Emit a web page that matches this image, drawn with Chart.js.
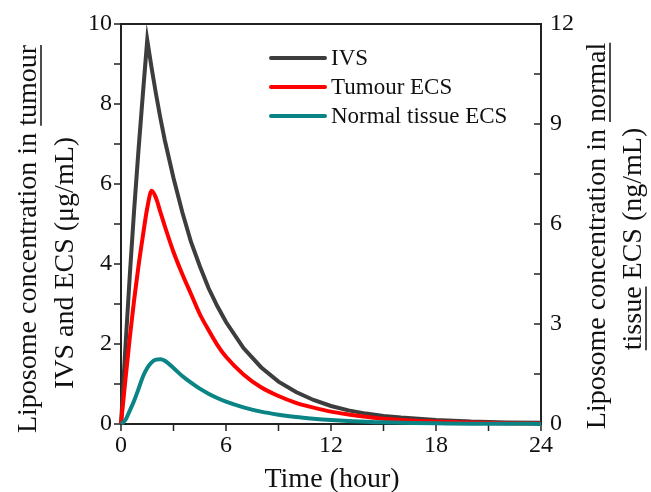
<!DOCTYPE html>
<html>
<head>
<meta charset="utf-8">
<script src="https://cdn.jsdelivr.net/npm/chart.js@4.4.1/dist/chart.umd.min.js"></script>
<style>
  body { margin: 0; background: #fff; }
  #wrap { width: 651px; height: 492px; }
</style>
</head>
<body>
<div id="wrap"><canvas id="grafico" width="651" height="492"></canvas></div>
<script>
// time points (hour)
const times = [0, 0.25, 0.5, 0.75, 1, 1.25, 1.5, 1.75, 2, 2.25, 2.5, 3, 3.5, 4, 4.5, 5, 5.5, 6,
  7, 8, 9, 10, 11, 12, 13, 14, 15, 16, 18, 20, 22, 24];

// IVS and tumour ECS in ug/mL (left axis)
const ivs = [0, 1.9, 3.7, 5.35, 6.85, 8.25, 9.6, 8.9, 8.25, 7.65, 7.1, 6.15, 5.3, 4.55, 3.95, 3.4, 2.95, 2.55,
  1.9, 1.42, 1.06, 0.8, 0.6, 0.45, 0.34, 0.26, 0.2, 0.16, 0.1, 0.06, 0.04, 0.03];
const tumourEcs = [0, 1.1, 2.15, 3.1, 3.95, 4.7, 5.4, 5.83, 5.65, 5.3, 4.95, 4.3, 3.75, 3.25, 2.75, 2.35, 1.98, 1.68,
  1.24, 0.92, 0.7, 0.53, 0.41, 0.31, 0.24, 0.18, 0.13, 0.1, 0.06, 0.04, 0.02, 0.01];

// normal tissue ECS in ng/mL (right axis)
const normalEcs = [0, 0.12, 0.4, 0.7, 1.05, 1.42, 1.68, 1.85, 1.93, 1.94, 1.9, 1.68, 1.44, 1.24, 1.06, 0.91, 0.78, 0.67,
  0.5, 0.37, 0.28, 0.21, 0.16, 0.12, 0.09, 0.07, 0.05, 0.04, 0.02, 0.01, 0.01, 0];

const xTickLabels = [0, 6, 12, 18, 24];
const leftTickLabels = [0, 2, 4, 6, 8, 10];
const rightTickLabels = [0, 3, 6, 9, 12];

const serif = '"Liberation Serif", "Times New Roman", serif';
const ink = '#111';

const pts = (vals) => times.map((t, i) => ({ x: t, y: vals[i] }));

// frame + tick marks (left/bottom outward, right inward)
const framePlugin = {
  id: 'framePlugin',
  beforeDatasetsDraw(chart) {
    const { ctx, chartArea: a, scales } = chart;
    ctx.save();
    ctx.strokeStyle = '#222';
    ctx.lineWidth = 2;
    ctx.strokeRect(a.left, a.top, a.right - a.left, a.bottom - a.top);
    ctx.lineWidth = 1.5;
    ctx.beginPath();
    scales.x.ticks.forEach(t => {
      const p = scales.x.getPixelForValue(t.value);
      ctx.moveTo(p, a.bottom); ctx.lineTo(p, a.bottom + 7);
    });
    scales.y.ticks.forEach(t => {
      const p = scales.y.getPixelForValue(t.value);
      ctx.moveTo(a.left, p); ctx.lineTo(a.left - 7, p);
    });
    scales.y2.ticks.forEach(t => {
      const p = scales.y2.getPixelForValue(t.value);
      ctx.moveTo(a.right, p); ctx.lineTo(a.right - 7, p);
    });
    ctx.stroke();
    ctx.restore();
  }
};

function rotatedTitle(ctx, parts, baseX, centerY) {
  ctx.save();
  ctx.translate(baseX, centerY);
  ctx.rotate(-Math.PI / 2);
  ctx.font = '28px ' + serif;
  ctx.fillStyle = ink;
  ctx.strokeStyle = ink;
  ctx.lineWidth = 1.5;
  ctx.textBaseline = 'alphabetic';
  ctx.textAlign = 'left';
  const total = parts.reduce((s, p) => s + ctx.measureText(p[0]).width, 0);
  let x = -total / 2;
  parts.forEach(([txt, under]) => {
    const w = ctx.measureText(txt).width;
    ctx.fillText(txt, x, 0);
    if (under) {
      ctx.beginPath();
      ctx.moveTo(x, 5); ctx.lineTo(x + w, 5);
      ctx.stroke();
    }
    x += w;
  });
  ctx.restore();
}

const titlePlugin = {
  id: 'titlePlugin',
  afterDraw(chart) {
    const { ctx, chartArea: a } = chart;
    ctx.save();
    ctx.font = '28px ' + serif;
    ctx.fillStyle = ink;
    ctx.textAlign = 'center';
    ctx.textBaseline = 'alphabetic';
    ctx.fillText('Time (hour)', (a.left + a.right) / 2 + 1, 487);
    ctx.restore();

    rotatedTitle(ctx, [['Liposome concentration in ', false], ['tumour', true]], 36, 239);
    rotatedTitle(ctx, [['IVS and ECS (\u03bcg/mL)', false]], 73, 263);
    rotatedTitle(ctx, [['Liposome concentration in ', false], ['normal', true]], 605, 236);
    rotatedTitle(ctx, [['tissue', true], [' ECS (ng/mL)', false]], 641, 239);

    // legend
    ctx.save();
    ctx.font = '23px ' + serif;
    ctx.textBaseline = 'middle';
    ctx.textAlign = 'left';
    chart.data.datasets.forEach((ds, i) => {
      const y = 58 + i * 29;
      ctx.strokeStyle = ds.borderColor;
      ctx.lineWidth = 4;
      ctx.lineCap = 'round';
      ctx.beginPath();
      ctx.moveTo(271, y); ctx.lineTo(325, y);
      ctx.stroke();
      ctx.fillStyle = ink;
      ctx.fillText(ds.label, 331, y + 1);
    });
    ctx.restore();
  }
};

const tickFont = { family: serif, size: 24 };

new Chart(document.getElementById('grafico'), {
  type: 'line',
  data: {
    datasets: [{
      label: 'IVS',
      data: pts(ivs),
      yAxisID: 'y',
      borderColor: '#3d3d3d',
      borderWidth: 4,
      tension: 0,
      order: 2
    }, {
      label: 'Tumour ECS',
      data: pts(tumourEcs),
      yAxisID: 'y',
      borderColor: '#ff0000',
      borderWidth: 4,
      cubicInterpolationMode: 'monotone',
      order: 1
    }, {
      label: 'Normal tissue ECS',
      data: pts(normalEcs),
      yAxisID: 'y2',
      borderColor: '#0a8484',
      borderWidth: 4,
      cubicInterpolationMode: 'monotone',
      order: 0
    }]
  },
  options: {
    responsive: false,
    animation: false,
    layout: { padding: { top: 24, left: 0, right: 0, bottom: 0 } },
    elements: { point: { radius: 0 } },
    datasets: { line: { clip: false, fill: false } },
    plugins: { legend: { display: false }, tooltip: { enabled: false } },
    scales: {
      x: {
        type: 'linear', position: 'bottom', min: 0, max: 24,
        afterFit: s => { s.height = 68; },
        grid: { display: false, drawTicks: false },
        border: { display: false },
        ticks: {
          stepSize: 3, padding: 7, color: ink, font: tickFont, maxRotation: 0, autoSkip: false,
          callback: v => xTickLabels.includes(v) ? String(v) : ''
        }
      },
      y: {
        position: 'left', min: 0, max: 10,
        afterFit: s => { s.width = 121; },
        grid: { display: false, drawTicks: false },
        border: { display: false },
        ticks: {
          stepSize: 1, padding: 9, color: ink, font: tickFont, autoSkip: false,
          callback: v => leftTickLabels.includes(v) ? String(v) : ''
        }
      },
      y2: {
        position: 'right', min: 0, max: 12,
        afterFit: s => { s.width = 110; },
        grid: { display: false, drawTicks: false },
        border: { display: false },
        ticks: {
          stepSize: 1.5, padding: 9, color: ink, font: tickFont, autoSkip: false,
          callback: v => rightTickLabels.includes(v) ? String(v) : ''
        }
      }
    }
  },
  plugins: [framePlugin, titlePlugin]
});
</script>
</body>
</html>
